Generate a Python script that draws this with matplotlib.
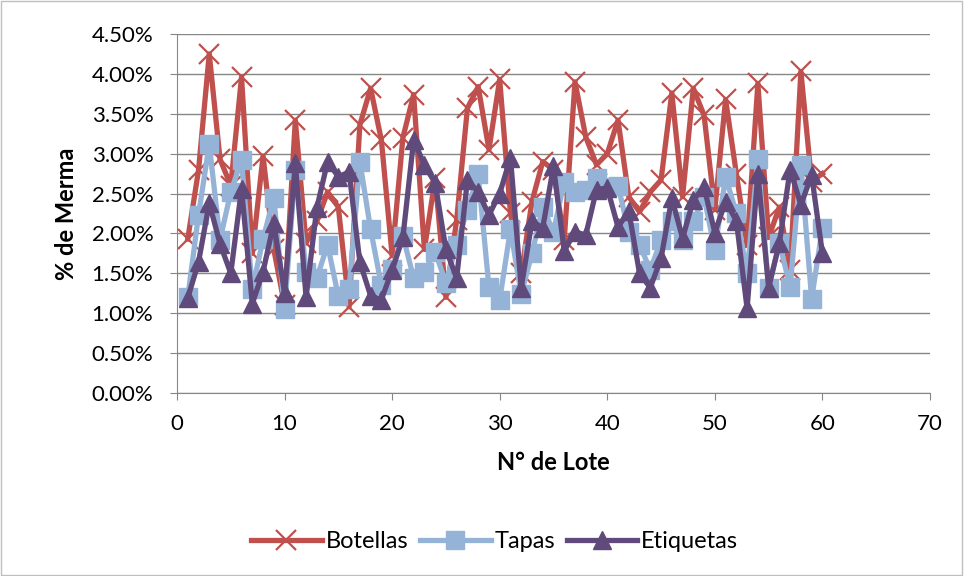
import numpy as np
import matplotlib
matplotlib.use("Agg")
from matplotlib import pyplot as plt
from matplotlib.ticker import FuncFormatter
from matplotlib.patches import Rectangle

lotes = np.arange(1, 61)

botellas = [1.93, 2.79, 4.25, 2.93, 2.60, 3.96, 1.75, 2.97, 1.80, 1.10,
            3.42, 1.88, 2.15, 2.52, 2.33, 1.08, 3.36, 3.82, 3.17, 1.72,
            3.20, 3.74, 1.80, 2.69, 1.20, 2.17, 3.57, 3.84, 3.05, 3.93,
            2.25, 1.50, 2.40, 2.90, 2.80, 1.92, 3.90, 3.21, 2.86, 3.00,
            3.42, 2.46, 2.27, 2.52, 2.67, 3.76, 2.46, 3.82, 3.48, 2.30,
            3.68, 2.75, 1.85, 3.88, 1.95, 2.33, 1.54, 4.03, 2.65, 2.75]

tapas = [1.20, 2.23, 3.12, 1.92, 2.52, 2.92, 1.30, 1.93, 2.45, 1.05,
         2.80, 1.52, 1.44, 1.86, 1.21, 1.30, 2.90, 2.05, 1.35, 1.55,
         1.97, 1.44, 1.52, 1.77, 1.38, 1.86, 2.30, 2.74, 1.33, 1.17,
         2.05, 1.24, 1.75, 2.33, 2.02, 2.65, 2.52, 2.54, 2.69, 2.58,
         2.60, 2.02, 1.86, 1.54, 1.92, 2.15, 1.92, 2.15, 2.46, 1.79,
         2.71, 2.25, 1.50, 2.93, 1.32, 1.88, 1.33, 2.86, 1.18, 2.07]

etiquetas = [1.19, 1.64, 2.38, 1.87, 1.50, 2.56, 1.12, 1.52, 2.13, 1.25,
             2.88, 1.20, 2.32, 2.90, 2.71, 2.77, 1.64, 1.22, 1.17, 1.54,
             1.95, 3.17, 2.86, 2.63, 1.80, 1.44, 2.67, 2.52, 2.23, 2.50,
             2.95, 1.32, 2.15, 2.07, 2.84, 1.78, 2.02, 1.98, 2.55, 2.57,
             2.08, 2.28, 1.50, 1.32, 1.69, 2.44, 1.94, 2.42, 2.58, 2.01,
             2.40, 2.16, 1.06, 2.75, 1.32, 1.88, 2.80, 2.36, 2.73, 1.75]

y_ticks = np.arange(0, 4.51, 0.5)
x_ticks = np.arange(0, 71, 10)

plt.rcParams['font.family'] = ['Lato', 'DejaVu Sans']

fig = plt.figure(figsize=(9.64, 5.76), dpi=100)
fig.patches.append(Rectangle((0.001, 0.002), 0.997, 0.996, transform=fig.transFigure,
                             fill=False, edgecolor='#bfbfbf', linewidth=1))
ax = fig.add_axes([0.1836, 0.3177, 0.7811, 0.6233])

ax.plot(lotes, botellas, color='#C0504D', lw=3.8, marker='x', ms=14, mew=1.6,
        label='Botellas', zorder=3)
ax.plot(lotes, tapas, color='#95B3D7', lw=3.8, marker='s', ms=12.5,
        label='Tapas', zorder=4)
ax.plot(lotes, etiquetas, color='#604A7B', lw=3.8, marker='^', ms=13,
        label='Etiquetas', zorder=5)

ax.set_xlim(0, 70)
ax.set_ylim(0, 4.5)
ax.set_xticks(x_ticks)
ax.set_yticks(y_ticks)
ax.yaxis.set_major_formatter(FuncFormatter(lambda v, p: '%.2f%%' % v))
ax.grid(axis='y', color='#868686', lw=1)
ax.set_axisbelow(True)
for s in ['top', 'right']:
    ax.spines[s].set_visible(False)
for s in ['left', 'bottom']:
    ax.spines[s].set_color('#868686')
ax.tick_params(colors='#868686', labelcolor='black', labelsize=16, length=5)
ax.tick_params(axis='x', pad=10)
ax.tick_params(axis='y', pad=12)

ax.set_xlabel('N° de Lote', fontsize=17, fontweight='bold', labelpad=12)
ax.set_ylabel('% de Merma', fontsize=17, fontweight='bold', labelpad=10)

fig.legend(loc='center', bbox_to_anchor=(0.513, 0.06), ncol=3, frameon=False,
           fontsize=17, handlelength=3.0, columnspacing=0.5, handletextpad=0.15)

fig.savefig('out.png', dpi=100)
